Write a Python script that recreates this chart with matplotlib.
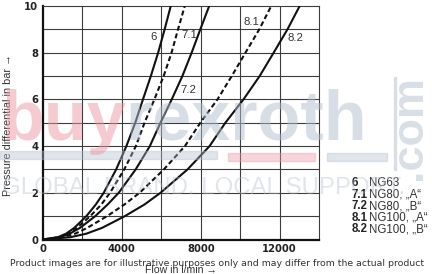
import matplotlib
matplotlib.use("Agg")
import matplotlib.pyplot as plt
from matplotlib.patches import Rectangle

# ---- data ----
dp_levels = [0, 0.1, 0.25, 0.5, 1, 1.5, 2, 3, 4, 5, 6, 7, 8, 9, 10]
flow_6  = [0, 760, 1170, 1590, 2200, 2680, 3080, 3710, 4230, 4680, 5070, 5470, 5840, 6170, 6480]
flow_71 = [0, 845, 1290, 1720, 2400, 2960, 3400, 4120, 4710, 5150, 5650, 6120, 6520, 6850, 7190]
flow_72 = [0, 865, 1360, 1880, 2650, 3280, 3840, 4700, 5420, 5960, 6530, 7070, 7540, 7980, 8430]
flow_81 = [0, 1000, 1630, 2250, 3250, 4130, 4900, 6130, 7200, 7980, 8850, 9575, 10270, 10970, 11577]
flow_82 = [0, 1400, 2200, 3000, 4150, 5150, 5960, 7330, 8450, 9250, 10170, 10990, 11700, 12400, 13020]

curve_names = ["6", "7.1", "7.2", "8.1", "8.2"]
curve_dashed = [False, True, False, True, False]
label_pos = [(5620, 8.66), (7420, 8.76), (7360, 6.40), (10590, 9.33), (12800, 8.62)]

legend_num = ["6", "7.1", "7.2", "8.1", "8.2"]
legend_txt = ["NG63", "NG80, \u201eA\u201c", "NG80, \u201eB\u201c", "NG100, \u201eA\u201c", "NG100, \u201eB\u201c"]

x_ticks = [0, 4000, 8000, 12000]
y_ticks = [0, 2, 4, 6, 8, 10]

SANS = ["Liberation Sans", "DejaVu Sans"]

W, H = 432, 274
fig = plt.figure(figsize=(W / 100, H / 100), dpi=100)
fig.patch.set_facecolor("white")
renderer = fig.canvas.get_renderer()

def fx(px):
    return px / W

def fy(py):
    return 1 - py / H

def fit_size(txt, target_px, base=40, **kw):
    t = fig.text(0, 0, txt, fontsize=base, **kw)
    w = t.get_window_extent(renderer).width
    t.remove()
    return base * target_px / w

ax = fig.add_axes([fx(43), fy(239.5), fx(319) - fx(43), fy(6) - fy(239.5)])
ax.set_xlim(0, 14000)
ax.set_ylim(0, 10)

gridc = "#3c3c3c"
for xv in range(2000, 14000, 2000):
    ax.axvline(xv, color=gridc, lw=0.8, zorder=1)
for yv in range(1, 10):
    ax.axhline(yv, color=gridc, lw=0.8, zorder=1)

series = [flow_6, flow_71, flow_72, flow_81, flow_82]
for q, name, dashed, (lx, ly) in zip(series, curve_names, curve_dashed, label_pos):
    if dashed:
        ax.plot(q, dp_levels, color="#111111", lw=1.5, dashes=(2.4, 1.4), zorder=3)
    else:
        ax.plot(q, dp_levels, color="#111111", lw=1.5, zorder=3)
    ax.text(lx, ly, name, ha="center", va="center", fontsize=8.2,
            color="#333333", family=SANS, zorder=4)

ax.set_xticks(x_ticks)
ax.set_yticks(y_ticks)
ax.set_xticklabels([str(v) for v in x_ticks], fontweight="bold", fontsize=7.2, color="#222222")
ax.set_yticklabels([str(v) for v in y_ticks], fontweight="bold", fontsize=7.2, color="#222222")
ax.tick_params(length=0, pad=3.5)
for s in ["left", "bottom"]:
    ax.spines[s].set_linewidth(1.6)
    ax.spines[s].set_color("#111111")
for s in ["top", "right"]:
    ax.spines[s].set_linewidth(0.8)
    ax.spines[s].set_color(gridc)

xl_size = fit_size("Flow in l/min \u2192", 72, family=SANS)
ax.set_xlabel("Flow in l/min \u2192", fontsize=xl_size, family=SANS, color="#333333", labelpad=8)
yl_size = fit_size("Pressure differential in bar \u2192", 140, family=SANS)
fig.text(fx(8), fy(125), "Pressure differential in bar \u2192", rotation=90,
         ha="center", va="center", fontsize=yl_size, family=SANS, color="#333333")

# legend block
for i, (n, t) in enumerate(zip(legend_num, legend_txt)):
    yy = fy(183 + i * 11.6)
    fig.text(fx(351.5), yy, n, ha="left", va="center", fontsize=8.3,
             fontweight="bold", family=SANS, color="#222222")
    fig.text(fx(369), yy, t, ha="left", va="center", fontsize=8.3,
             family=SANS, color="#333333")

# ---- faint watermark, sized to the reference extents ----
wm_gray = "#b3bfcd"
wm_pink = "#ec98a5"
WA = 0.5

wm_size = fit_size("buyrexroth", 366, fontweight="bold", family=SANS)
t_buy = fig.text(fx(1), fy(140), "buy", fontsize=wm_size, fontweight="bold", family=SANS,
                 color=wm_pink, alpha=WA, ha="left", va="baseline", zorder=10)
buy_w = t_buy.get_window_extent(renderer).width
fig.text(fx(1 + buy_w), fy(140), "rexroth", fontsize=wm_size, fontweight="bold", family=SANS,
         color=wm_gray, alpha=WA, ha="left", va="baseline", zorder=10)

com_size = fit_size(".com", 105, fontweight="bold", family=SANS)
fig.text(fx(430), fy(128), ".com", fontsize=com_size, fontweight="bold", family=SANS,
         color=wm_gray, alpha=WA, rotation=90, ha="right", va="center", zorder=10)
fig.add_artist(Rectangle((fx(394), fy(170)), fx(2), fy(77) - fy(170),
                         transform=fig.transFigure, color=wm_gray, alpha=0.4, zorder=10))
fig.add_artist(Rectangle((fx(0), fy(159)), fx(217), fy(151) - fy(159),
                         transform=fig.transFigure, color=wm_gray, alpha=0.4, zorder=10))
fig.add_artist(Rectangle((fx(228), fy(161)), fx(87), fy(153) - fy(161),
                         transform=fig.transFigure, color=wm_pink, alpha=0.4, zorder=10))
fig.add_artist(Rectangle((fx(327), fy(161)), fx(60), fy(153) - fy(161),
                         transform=fig.transFigure, color=wm_gray, alpha=0.4, zorder=10))
slogan_size = fit_size("GLOBAL BRAND. LOCAL SUPPORT.", 402, family=SANS)
fig.text(fx(2), fy(188), "GLOBAL BRAND. LOCAL SUPPORT.", fontsize=slogan_size, family=SANS,
         color=wm_gray, alpha=0.4, ha="left", va="center", zorder=10)

disc = "Product images are for illustrative purposes only and may differ from the actual product"
disc_size = fit_size(disc, 415)
fig.text(fx(217), fy(264), disc, ha="center", va="center", fontsize=disc_size,
         color="#333333", zorder=11)

fig.savefig("out.png", dpi=100)
